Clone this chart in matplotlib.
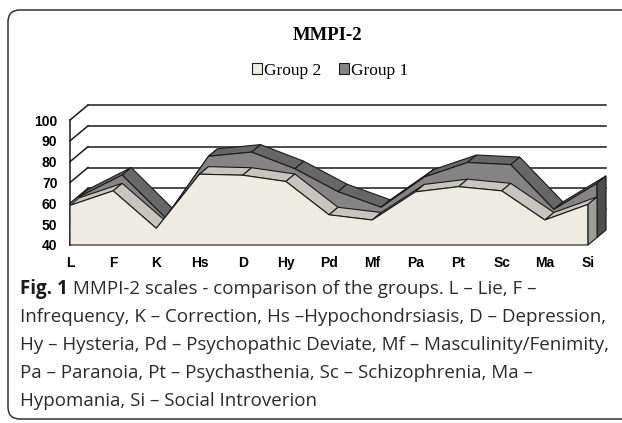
"""MMPI-2 scales, Group 1 vs Group 2 -- pseudo-3D area chart (Excel style)."""
import matplotlib.pyplot as plt
import numpy as np
from matplotlib.patches import FancyBboxPatch, Patch, Polygon

SCALES = ["L", "F", "K", "Hs", "D", "Hy", "Pd", "Mf", "Pa", "Pt", "Sc", "Ma", "Si"]
GROUP2 = [59, 66, 48, 74, 73.5, 70.5, 54.5, 52, 65.5, 68, 66, 52, 59.5]
GROUP1 = [59.5, 70, 49.5, 79, 81, 73, 62, 54.5, 69, 76, 75, 53.5, 66]
Y_TICKS = [40, 50, 60, 70, 80, 90, 100]
GRID_BACK = [50, 60, 70, 80, 90, 100]

CAPTION_HEAD = "Fig. 1"
CAPTION = [
    " MMPI-2 scales - comparison of the groups. L \u2013 Lie, F \u2013",
    "Infrequency, K \u2013 Correction, Hs \u2013Hypochondrsiasis, D \u2013 Depression,",
    "Hy \u2013 Hysteria, Pd \u2013 Psychopathic Deviate, Mf \u2013 Masculinity/Fenimity,",
    "Pa \u2013 Paranoia, Pt \u2013 Psychasthenia, Sc \u2013 Schizophrenia, Ma \u2013",
    "Hypomania, Si \u2013 Social Introverion",
]

W, H = 622, 423
# chart geometry (pixels)
X0_PX, Y0_PX = 70, 245          # front origin: category 0, value 40
PX_CAT, PX_UNIT = 43.17, 2.083  # px per category / per value unit
DEPTH_X = 18 / PX_CAT           # depth offset in data units
DEPTH_Y = 15 / PX_UNIT
YMIN = 40
XMAX, YMAX = 12.5, 107.2

EDGE = "#1a1a1a"
LW = 0.8
G2_FRONT, G2_TOP, G2_SIDE = "#EEECE1", "#C6C6BE", "#9E9E98"
G1_FRONT, G1_TOP, G1_SIDE = "#848484", "#676767", "#4E4E4E"

fig = plt.figure(figsize=(W / 100, H / 100), dpi=100)

# background axes in pixel coords: frame, title, caption
bg = fig.add_axes([0, 0, 1, 1])
bg.set_xlim(0, W); bg.set_ylim(H, 0); bg.axis("off")
bg.add_patch(FancyBboxPatch((8, 10), 640, 409,
                            boxstyle="round,pad=0,rounding_size=12",
                            fc="white", ec="#333333", lw=1.1))

fig.text(327 / W, 1 - 35 / H, "MMPI-2", ha="center", va="center",
         family="Liberation Serif", fontweight="bold", fontsize=13.5)

# main chart axes
ax = fig.add_axes([X0_PX / W, 1 - Y0_PX / H,
                   XMAX * PX_CAT / W, (YMAX - YMIN) * PX_UNIT / H])
ax.set_xlim(0, XMAX); ax.set_ylim(YMIN, YMAX)
for s in ax.spines.values():
    s.set_visible(False)
ax.patch.set_alpha(0)

n = len(SCALES)
xs = np.arange(n)

# walls: slanted left-wall lines + back-wall grid (behind the areas)
for v in Y_TICKS:
    ax.plot([0, DEPTH_X], [v, v + DEPTH_Y], color=EDGE, lw=1.1,
            clip_on=False, zorder=0.5)
for v in GRID_BACK:
    ax.plot([DEPTH_X, xs[-1] + DEPTH_X], [v + DEPTH_Y] * 2, color=EDGE,
            lw=1.1, clip_on=False, zorder=0.5)
ax.plot([0, 0], [YMIN, Y_TICKS[-1]], color=EDGE, lw=1.1, clip_on=False,
        zorder=0.5)


def draw_series(vals, d0, d1, front, top, side):
    def pt(i, v, d):
        return (xs[i] + d * DEPTH_X, v + d * DEPTH_Y)
    for i in range(n - 1):
        poly = [pt(i, vals[i], d0), pt(i + 1, vals[i + 1], d0),
                pt(i + 1, vals[i + 1], d1), pt(i, vals[i], d1)]
        ax.add_patch(Polygon(poly, closed=True, fc=top, ec=EDGE, lw=LW,
                             clip_on=False))
    poly = [pt(i, vals[i], d0) for i in range(n)]
    poly += [pt(n - 1, YMIN, d0), pt(0, YMIN, d0)]
    ax.add_patch(Polygon(poly, closed=True, fc=front, ec=EDGE, lw=LW,
                         clip_on=False))
    poly = [pt(n - 1, YMIN, d0), pt(n - 1, vals[-1], d0),
            pt(n - 1, vals[-1], d1), pt(n - 1, YMIN, d1)]
    ax.add_patch(Polygon(poly, closed=True, fc=side, ec=EDGE, lw=LW,
                         clip_on=False))


draw_series(GROUP1, 0.5, 1.0, G1_FRONT, G1_TOP, G1_SIDE)   # back row
draw_series(GROUP2, 0.0, 0.5, G2_FRONT, G2_TOP, G2_SIDE)   # front row

ax.set_xticks(xs)
ax.set_xticklabels(SCALES, family="Liberation Sans", fontweight="bold",
                   fontsize=10, va="baseline")
ax.set_yticks(Y_TICKS)
ax.set_yticklabels([str(v) for v in Y_TICKS], family="Liberation Sans",
                   fontweight="bold", fontsize=10)
ax.tick_params(axis="x", length=0, pad=16)
ax.tick_params(axis="y", length=0, pad=9)

handles = [Patch(fc=G2_FRONT, ec=EDGE, lw=0.8, label="Group 2"),
           Patch(fc=G1_FRONT, ec=EDGE, lw=0.8, label="Group 1")]
fig.legend(handles=handles, loc="center", ncol=2, frameon=False,
           bbox_to_anchor=(330 / W, 1 - 71 / H),
           prop={"family": "Liberation Serif", "size": 12.5},
           handlelength=0.6, handleheight=0.6, handletextpad=0.1,
           columnspacing=1.0)

# caption
cap_kw = dict(family="Open Sans", fontsize=13.5, color="#2b2b2b", va="center")
head = bg.text(20, 289, CAPTION_HEAD, fontweight="bold",
               **{**cap_kw, "color": "#1a1a1a"})
bg.annotate(CAPTION[0], xy=(1, 0.5), xycoords=head, **cap_kw)
for k, line in enumerate(CAPTION[1:], start=1):
    bg.text(20, 289 + 28 * k, line, **cap_kw)

fig.savefig("out.png", dpi=100)
